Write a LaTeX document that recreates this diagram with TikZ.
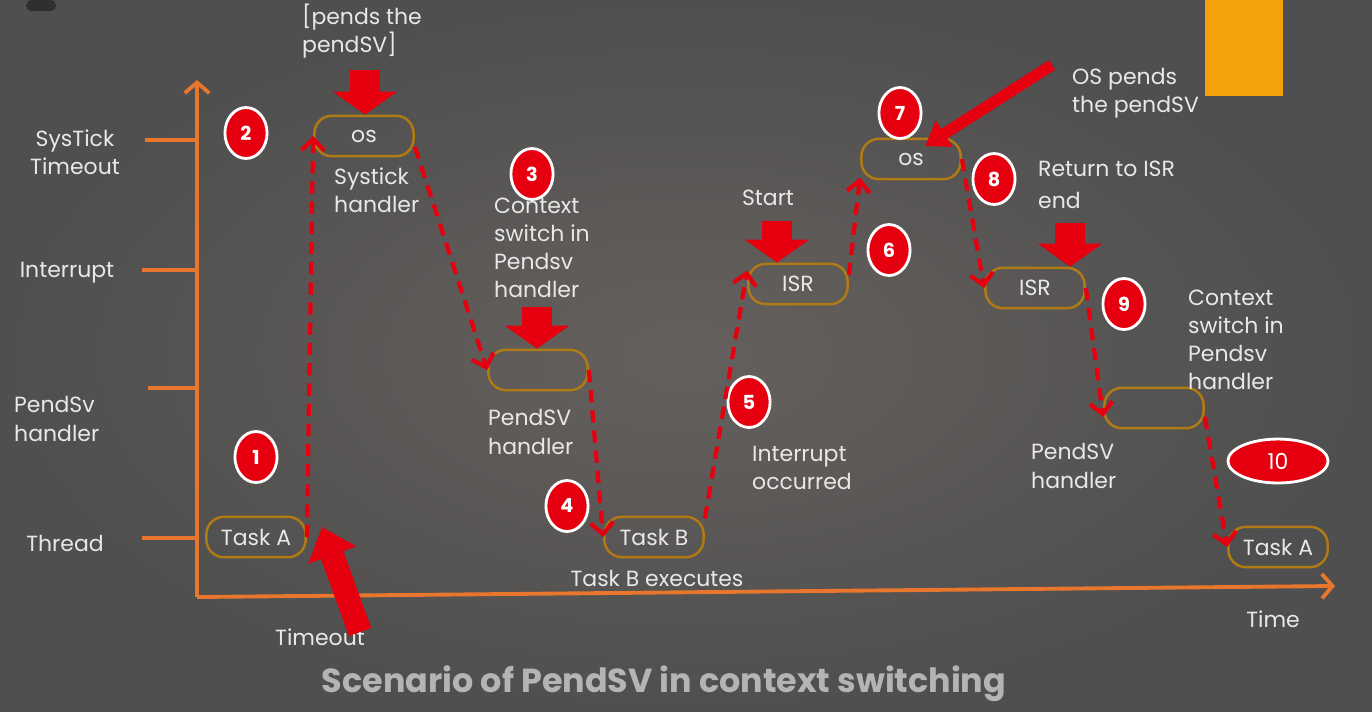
\documentclass[tikz,border=0pt]{standalone}
\usepackage{fontspec}
\setmainfont{Poppins}
\usepackage{tikz}
\usetikzlibrary{shapes.geometric , arrows.meta}

\definecolor{bgcol}{HTML}{4F4F4F}
\definecolor{bgmid}{HTML}{65605D}
\definecolor{axiscol}{HTML}{E8762C}
\definecolor{boxcol}{HTML}{B07A14}
\definecolor{redcol}{HTML}{E6000F}
\definecolor{txtcol}{HTML}{E8E8E8}
\definecolor{titlecol}{HTML}{B4B4B4}
\definecolor{notecol}{HTML}{F4A20C}

\begin{document}
\begin{tikzpicture}[x=0.02cm, y=-0.02cm,
  every node/.style={text=txtcol, font=\fontsize{12.5}{16}\selectfont},
  taskbox/.style={draw=boxcol, line width=1.4pt, rounded corners=10pt, minimum width=56.5pt, minimum height=23pt, inner sep=0pt},
  stepnum/.style={ellipse, fill=redcol, draw=white, line width=1.6pt, minimum width=24pt, minimum height=29pt, inner sep=0pt, text=white, font=\bfseries\fontsize{11}{11}\selectfont},
  flow/.style={draw=redcol, line width=2.4pt, dash pattern=on 7pt off 4.5pt, -{Straight Barb[length=6.5pt, width=13pt]}},
  bigarrow/.style={draw=redcol, line width=17.5pt, -{Triangle[width=36pt, length=13pt]}},
  axisline/.style={draw=axiscol, line width=2.2pt},
  note/.style={anchor=west, align=left}]
\useasboundingbox (0,0) rectangle (1372,711);
% Background
\fill[bgcol] (0,0) rectangle (1372,711);
\shade[inner color=bgmid, outer color=bgcol] (0,0) rectangle (1372,711);
\fill[notecol] (1205,0) rectangle (1283,96); % orange block top-right
\fill[black!40!bgcol, rounded corners=3pt] (26,0) rectangle (56,11);
% Axes
\coordinate (O) at (197,597);
\coordinate (yEnd) at (197,80);
\coordinate (xEnd) at (1335,586);
\draw[axisline, -{Straight Barb[length=6pt, width=14pt]}] (O) -- (yEnd);
\draw[axisline, -{Straight Barb[length=6pt, width=14pt]}] (O) -- (xEnd);
\foreach \y/\x in {140/145, 270/142, 388/148, 538/142}
  \draw[axisline] (\x,\y) -- (197,\y);
% Level labels
\node[align=center] (lvlSys) at (75,152) {SysTick\\Timeout};
\node (lvlInt) at (67,273) {Interrupt};
\node[note] (lvlPend) at (8,419) {PendSv\\handler};
\node (lvlThr) at (65,543) {Thread};
\node (lvlTime) at (1273,619) {Time};
% Execution boxes
\node[taskbox] (TaskA1) at (256,537) {Task A}; % Thread
\node[taskbox] (OS1) at (364,136) {os}; % SysTick
\node[taskbox] (Pend1) at (538,370) {}; % PendSV
\node[taskbox] (TaskB) at (654,537) {Task B}; % Thread
\node[taskbox] (ISR1) at (798,284) {ISR}; % Interrupt
\node[taskbox] (OS2) at (911,159) {os}; % SysTick
\node[taskbox] (ISR2) at (1035,288) {ISR}; % Interrupt
\node[taskbox] (Pend2) at (1154,408) {}; % PendSV
\node[taskbox] (TaskA2) at (1278,547) {Task A}; % Thread
% Step numbers
\node[stepnum] (n1) at (256,457) {1};
\node[stepnum] (n2) at (246,133) {2};
\node[stepnum] (n3) at (532,174) {3};
\node[stepnum] (n4) at (567,506) {4};
\node[stepnum] (n5) at (749,402) {5};
\node[stepnum] (n6) at (889,250) {6};
\node[stepnum] (n7) at (900,113) {7};
\node[stepnum] (n8) at (994,179) {8};
\node[stepnum] (n9) at (1124,304) {9};
\node[stepnum, minimum width=57pt, minimum height=25pt, font=\fontsize{12.5}{12.5}\selectfont] (n10) at (1278,461) {10};
% Notes
\node[note] (pendsNote) at (296,31) {[pends the\\pendSV]};
\node[note] (sysNote) at (328,190) {Systick\\handler};
\node[note] (ctxNote1) at (488,248) {Context\\switch in\\Pendsv\\handler};
\node[note] (pendNote1) at (482,432) {PendSV\\handler};
\node (execNote) at (657,578) {Task B executes};
\node (toNote) at (320,637) {Timeout};
\node[note] (intNote) at (746,468) {Interrupt\\occurred};
\node (startNote) at (768,198) {Start};
\node[note] (osNote) at (1066,93) {OS pends\\the pendSV};
\node[note] (retNote) at (1032,185) {Return to ISR\\[2pt]end};
\node[note] (ctxNote2) at (1182,340) {Context\\switch in\\Pendsv\\handler};
\node[note] (pendNote2) at (1025,466) {PendSV\\handler};
\node[text=titlecol, font=\bfseries\fontsize{19}{19}\selectfont] (title) at (664,684) {Scenario of PendSV in context switching};
% Flow between the boxes
\draw[flow] (TaskA1.east) to (OS1.west);
\draw[flow] (OS1.-12) to (Pend1.west);
\draw[flow] (Pend1.east) to (TaskB.west);
\draw[flow] (TaskB.20) to (ISR1.165);
\draw[flow] (ISR1.10) to (OS2.200);
\draw[flow] (OS2.east) to (ISR2.west);
\draw[flow] (ISR2.east) to (Pend2.190);
\draw[flow] (Pend2.-10) to (TaskA2.west);
% Big red pointers
\coordinate (osTop) at (365,70);
\coordinate (pendTop) at (537,307);
\coordinate (isrTop) at (777,221);
\coordinate (endTop) at (1070,223);
\draw[bigarrow] (osTop) -- (osTop |- OS1.north);
\draw[bigarrow] (pendTop) -- (pendTop |- Pend1.north);
\draw[bigarrow] (isrTop) -- (isrTop |- ISR1.north);
\draw[bigarrow] (endTop) -- (endTop |- ISR2.north);
\coordinate (toTail) at (360,632);
\coordinate (toTip) at (322,527);
\draw[redcol, line width=13.5pt, -{Triangle[width=28pt, length=17pt]}] (toTail) -- (toTip);
\coordinate (osTail) at (1052,65);
\coordinate (osTip) at (925,146);
\draw[redcol, line width=6.5pt, -{Triangle[width=17pt, length=13pt]}] (osTail) -- (osTip);
\end{tikzpicture}
\end{document}
